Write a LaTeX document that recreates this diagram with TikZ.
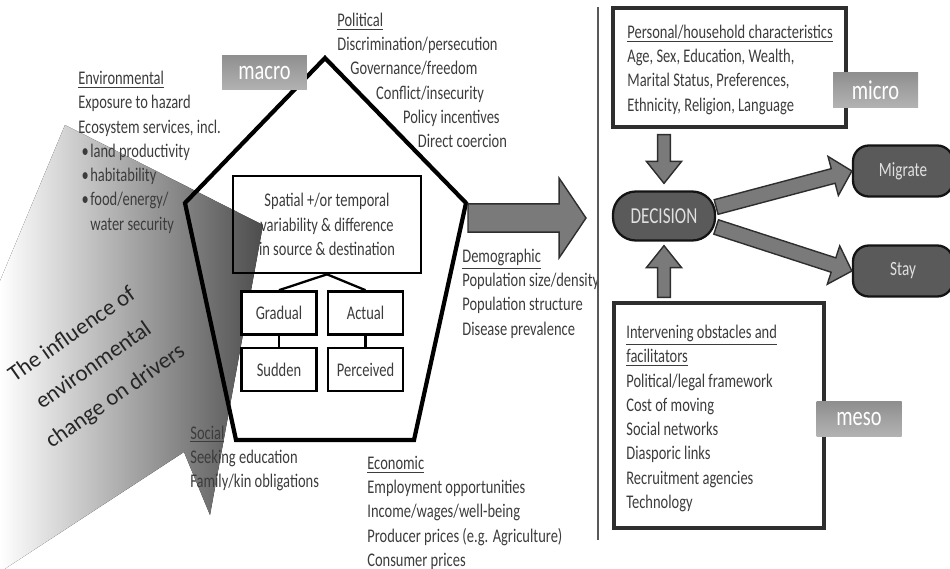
\documentclass[tikz,border=0pt]{standalone}
\usepackage{fontspec}
\setmainfont{Carlito}[FakeStretch=0.75]
\newfontfamily\plainfont{Carlito}
\usetikzlibrary{calc}
\definecolor{txtgray}{HTML}{3C3C3C}
\definecolor{boxgray}{HTML}{5A5A5A}
\definecolor{arrowgray}{HTML}{7A7A7A}
\definecolor{edgegray}{HTML}{2E2E2E}
\tikzset{
  body/.style={font=\fontsize{11}{13.8}\selectfont, text=txtgray, inner sep=0pt, align=left, anchor=base west},
  treebox/.style={draw=black, line width=1.5pt, text=txtgray, font=\fontsize{11}{13.8}\selectfont, minimum width=1.5cm, minimum height=0.86cm, inner sep=0pt},
  levelbox/.style={top color=black!44, bottom color=black!30, text=white, font=\fontsize{15.5}{18}\selectfont, minimum width=1.7cm, minimum height=0.7cm, inner sep=0pt},
  outcome/.style={draw=black!92, line width=1.3pt, fill=boxgray, text=black!12, rounded corners=9pt, font=\fontsize{11.5}{13}\selectfont, minimum width=2cm, minimum height=1.02cm},
  infobox/.style={draw=edgegray, line width=1.8pt, inner sep=0pt},
  blockarrow/.style={fill=arrowgray, draw=edgegray, line width=0.8pt, line join=miter},
  tree/.style={line width=1.3pt}
}
% block arrow: [style](from)(to)(shaft half width:head half width:head length)
\def\blockarrow[#1](#2)(#3)(#4:#5:#6){\coordinate (bam) at ($(#3)!#6!(#2)$);
  \draw[#1] ($(#2)!#4!90:(#3)$) -- ($(bam)!#4!90:(#3)$) -- ($(bam)!#5!90:(#3)$) -- (#3)
    -- ($(bam)!#5!-90:(#3)$) -- ($(bam)!#4!-90:(#3)$) -- ($(#2)!#4!-90:(#3)$) -- cycle;}

\begin{document}
\begin{tikzpicture}[x=0.02cm, y=-0.02cm]
  \useasboundingbox (0,0) rectangle (950,568);

  %%%%% LEFT: drivers %%%%%

  % shaded arrow of environmental change
  \fill[left color=white, right color=black!70] (0,281) -- (65,125) -- (263,225) -- (210,515) -- (184,452) -- (0,572) -- cycle;
  \node[rotate=35, align=center, inner sep=0pt, font=\plainfont\fontsize{13}{21.5}\selectfont, text=black!85] (influence) at (94,366) {The influence of\\ environmental\\ change on drivers};

  % pentagon of drivers
  \draw[line width=2.4pt, line join=miter] (325,58) -- (466,203) -- (414,440) -- (236,440) -- (185,203) -- cycle;

  \node[treebox, minimum width=3.76cm, minimum height=1.94cm, align=center] (spatial) at (327,224.5) {Spatial +/or temporal\\ variability \& difference\\ in source \& destination};
  \node[treebox, fill=white] (grad) at (279,313) {Gradual};
  \node[treebox, fill=white] (act) at (365.5,313) {Actual};
  \node[treebox, fill=white] (sud) at (279,369.5) {Sudden};
  \node[treebox, fill=white] (perc) at (365.5,369.5) {Perceived};
  \draw[tree] (spatial.south) -- (grad.north);
  \draw[tree] (spatial.south) -- (act.north);
  \draw[tree] (grad.south) -- (sud.north);
  \draw[tree] (act.south) -- (perc.north);

  % text blocks, placed at the baseline of their last line
  \node[body] (env) at (78,230) {\underline{Environmental}\\ Exposure to hazard\\ Ecosystem services, incl.\\
    \makebox[6.8pt][l]{\,\textbullet}land productivity\\ \makebox[6.8pt][l]{\,\textbullet}habitability\\
    \makebox[6.8pt][l]{\,\textbullet}food/energy/\\ \hspace*{6.8pt}water security};
  \node[body] (pol) at (337,147.7) {\underline{Political}\\ Discrimination/persecution\\ \hspace*{7.4pt}Governance/freedom\\
    \hspace*{22.1pt}Conflict/insecurity\\ \hspace*{37.4pt}Policy incentives\\ \hspace*{45.9pt}Direct coercion};
  \node[body] (demo) at (462,335) {\underline{Demographic}\\ Population size/density\\ Population structure\\ Disease prevalence};
  \node[body] (soc) at (190,487.7) {\underline{Social}\\ Seeking education\\ Family/kin obligations};
  \node[body] (eco) at (367,566.4) {\underline{Economic}\\ Employment opportunities\\ Income/wages/well-being\\
    Producer prices (e.g. Agriculture)\\ Consumer prices};

  \coordinate (pentR) at (468,218);
  \coordinate (bigtip) at (586,218);
  \blockarrow[blockarrow](pentR)(bigtip)(8pt:22.7pt:15.3pt)

  \draw[line width=0.9pt, black!65] (598,7) -- (598,540);

  %%%%% RIGHT: decision %%%%%

  \node[infobox, minimum width=4.66cm, minimum height=2.38cm] (pers) at (729.5,67.5) {};
  \node[body] (perstext) at (627,111) {\underline{Personal/household characteristics}\\ Age, Sex, Education, Wealth,\\
    Marital Status, Preferences,\\ Ethnicity, Religion, Language};

  \node[infobox, minimum width=4.2cm, minimum height=4.5cm] (inter) at (719,415.5) {};
  \node[body] (intertext) at (626,508.4) {\underline{Intervening obstacles and}\\ \underline{facilitators}\\ Political/legal framework\\
    Cost of moving\\ Social networks\\ Diasporic links\\ Recruitment agencies\\ Technology};

  \node[outcome, minimum width=2.04cm, minimum height=0.98cm, rounded corners=13pt, font=\fontsize{13}{14}\selectfont] (dec) at (664,216) {DECISION};
  \node[outcome] (mig) at (903,171) {Migrate};
  \node[outcome] (stay) at (903,271) {Stay};

  \coordinate (decup) at ($(dec.east)+(0,-9)$);
  \coordinate (declo) at ($(dec.east)+(0,11)$);
  \blockarrow[blockarrow](decup)(mig.west)(4.3pt:11.5pt:11pt)
  \blockarrow[blockarrow](declo)(stay.west)(4.3pt:11.5pt:11pt)

  \coordinate (perstop) at ($(pers.south -| dec.north)+(0,6)$);
  \coordinate (dectop) at ($(dec.north)+(0,-7)$);
  \blockarrow[blockarrow](perstop)(dectop)(3.6pt:10pt:12.5pt)
  \coordinate (interbot) at ($(inter.north -| dec.south)+(0,-4)$);
  \coordinate (decbot) at ($(dec.south)+(0,4)$);
  \blockarrow[blockarrow](interbot)(decbot)(3.6pt:10pt:12.5pt)

  % level labels
  \node[levelbox] (macro) at (264.5,72.5) {macro};
  \node[levelbox] (micro) at (875.5,90) {micro};
  \node[levelbox] (meso) at (859,419) {meso};
\end{tikzpicture}
\end{document}
